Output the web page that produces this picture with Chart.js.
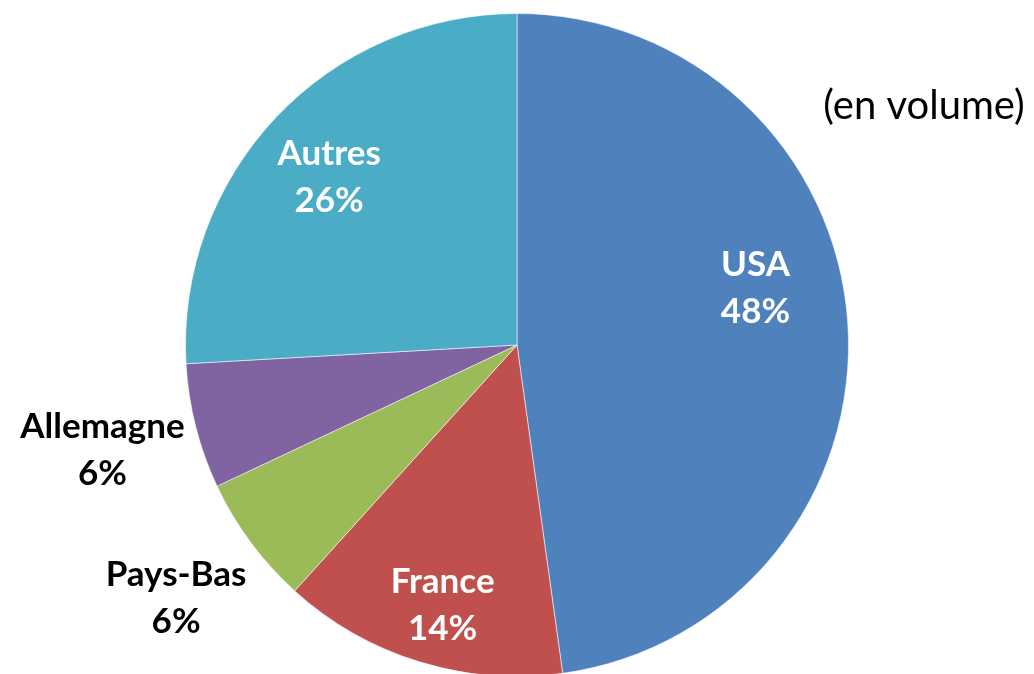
<!DOCTYPE html>
<html>
<head>
<meta charset="utf-8">
<script src="https://cdn.jsdelivr.net/npm/chart.js@4/dist/chart.umd.min.js"></script>
<style>
  html, body { margin: 0; padding: 0; background: #fff; overflow: hidden; }
  #wrap { width: 1034px; height: 674px; overflow: hidden; position: relative; }
  canvas { display: block; }
</style>
</head>
<body>
<div id="wrap"><canvas id="c" width="1034" height="690"></canvas></div>
<script>
const categories = ["USA", "France", "Pays-Bas", "Allemagne", "Autres"];
const shares = [47.8, 13.9, 6.3, 6.1, 25.9];
const colors = ["#4F81BD", "#C0504D", "#9BBB59", "#8064A2", "#4BACC6"];
const note = "(en volume)";

// label placement: radial fraction of the radius and angular nudge (degrees)
const LABEL_FRAC = [0.74, 0.814, 1.28, 1.29, 0.76];
const LABEL_SHIFT = [-9.6, -1.1, 0, 0, -1.6];

const labelPlugin = {
  id: 'sliceLabels',
  afterDatasetsDraw(chart) {
    const ctx = chart.ctx;
    const meta = chart.getDatasetMeta(0);
    const data = chart.data.datasets[0].data;
    const total = data.reduce((a, b) => a + b, 0);
    ctx.save();
    ctx.textAlign = 'center';
    ctx.textBaseline = 'middle';
    ctx.font = "bold 35px Lato, 'Open Sans', sans-serif";
    meta.data.forEach((arc, i) => {
      const p = arc.getProps(['x', 'y', 'startAngle', 'endAngle', 'outerRadius'], true);
      const frac = LABEL_FRAC[i];
      const mid = (p.startAngle + p.endAngle) / 2 + LABEL_SHIFT[i] * Math.PI / 180;
      const r = p.outerRadius * frac;
      const cx = p.x + Math.cos(mid) * r;
      const cy = p.y + Math.sin(mid) * r;
      ctx.fillStyle = frac > 1 ? '#000000' : '#FFFFFF';
      const pct = Math.round(data[i] / total * 100) + '%';
      ctx.fillText(chart.data.labels[i], cx, cy - 23);
      ctx.fillText(pct, cx, cy + 24);
    });
    ctx.fillStyle = '#000000';
    ctx.font = "40px Lato, 'Open Sans', sans-serif";
    ctx.fillText(note, 924, 106);
    ctx.restore();
  }
};

new Chart(document.getElementById('c'), {
  type: 'pie',
  data: {
    labels: categories,
    datasets: [{
      data: shares,
      backgroundColor: colors,
      borderColor: 'rgba(255,255,255,0.55)',
      borderWidth: 1
    }]
  },
  options: {
    responsive: false,
    animation: false,
    layout: { padding: { top: 13, bottom: 13, left: 0, right: 0 } },
    plugins: {
      legend: { display: false },
      tooltip: { enabled: false }
    }
  },
  plugins: [labelPlugin]
});
</script>
</body>
</html>
